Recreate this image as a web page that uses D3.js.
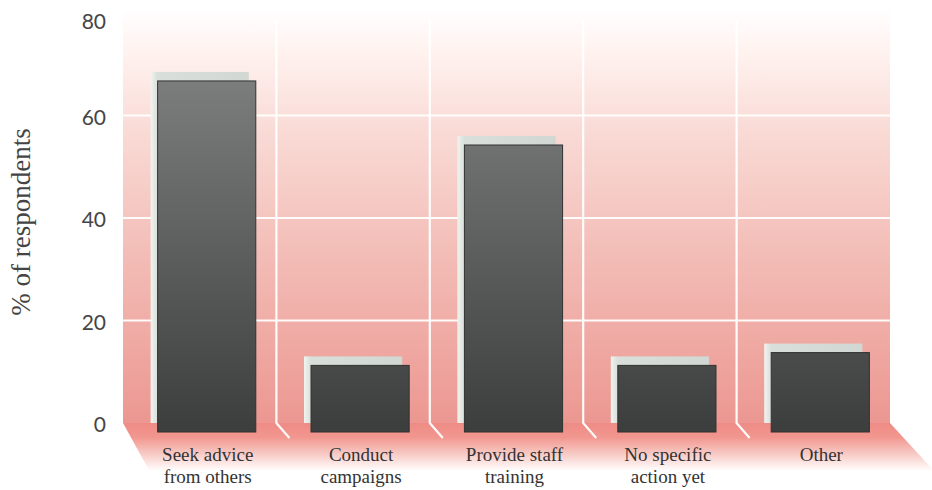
<!DOCTYPE html>
<html>
<head>
<meta charset="utf-8">
<script src="https://cdn.jsdelivr.net/npm/d3@7"></script>
<style>
  html, body { margin: 0; padding: 0; background: #ffffff; }
  svg { display: block; }
</style>
</head>
<body>
<svg id="chart" width="932" height="490"></svg>
<script>
// Categories and percentages of respondents
const categories = [
  ["Seek advice", "from others"],
  ["Conduct", "campaigns"],
  ["Provide staff", "training"],
  ["No specific", "action yet"],
  ["Other"]
];
const values = [68.5, 13, 56, 13, 15.5];
const yTicks = [0, 20, 40, 60, 80];
const yTitle = "% of respondents";

const svg = d3.select("#chart");

// Back wall extent and scales
const wallLeft = 123, wallRight = 890;
const y = d3.scaleLinear().domain([0, 80]).range([423, 13]);
const keys = categories.map(d => d.join(" "));
const x = d3.scaleBand().domain(keys).range([wallLeft, wallRight])
  .paddingInner(0.36).paddingOuter(0.18);
const step = x.step();

// Offset of the bar front face from its back face, and floor depth
const faceDx = 7, faceDy = 9;
const floorDx = 44, floorDy = 48;

const defs = svg.append("defs");

const wallGrad = defs.append("linearGradient").attr("id", "wallGrad")
  .attr("gradientUnits", "userSpaceOnUse")
  .attr("x1", 0).attr("x2", 0).attr("y1", 8).attr("y2", y(0));
wallGrad.selectAll("stop").data([
  [0, "#ffffff"], [0.1, "#fff3f0"], [0.3, "#f9dad5"], [0.6, "#f3bcb6"], [1, "#ec9791"]
]).join("stop").attr("offset", d => d[0]).attr("stop-color", d => d[1]);

const floorGrad = defs.append("linearGradient").attr("id", "floorGrad")
  .attr("gradientUnits", "userSpaceOnUse")
  .attr("x1", 0).attr("x2", 0).attr("y1", y(0)).attr("y2", y(0) + floorDy);
floorGrad.selectAll("stop").data([
  [0, "#ee8b85"], [0.3, "#f1978f"], [0.65, "#f8cbc6"], [1, "#ffffff"]
]).join("stop").attr("offset", d => d[0]).attr("stop-color", d => d[1]);

const barGrad = defs.append("linearGradient").attr("id", "barGrad")
  .attr("gradientUnits", "userSpaceOnUse")
  .attr("x1", 0).attr("x2", 0).attr("y1", 60).attr("y2", y(0) + faceDy);
barGrad.selectAll("stop").data([
  [0, "#7e8180"], [1, "#3b3e3d"]
]).join("stop").attr("offset", d => d[0]).attr("stop-color", d => d[1]);

const backGrad = defs.append("linearGradient").attr("id", "backGrad")
  .attr("x1", 0).attr("x2", 1).attr("y1", 0).attr("y2", 0);
backGrad.selectAll("stop").data([
  [0, "#f1f3ef"], [0.07, "#d9dfda"], [1, "#d1d7d2"]
]).join("stop").attr("offset", d => d[0]).attr("stop-color", d => d[1]);

// Floor
svg.append("path")
  .attr("d", `M${wallLeft},${y(0)} L${wallRight},${y(0)} L${wallRight + floorDx},${y(0) + floorDy} L${wallLeft + floorDx * 0.6},${y(0) + floorDy} Z`)
  .attr("fill", "url(#floorGrad)");

// Back wall
svg.append("rect")
  .attr("x", wallLeft).attr("y", 8)
  .attr("width", wallRight - wallLeft).attr("height", y(0) - 8)
  .attr("fill", "url(#wallGrad)");

// Horizontal grid lines
svg.append("g").selectAll("line")
  .data(yTicks.filter(t => t > 0 && t < 80))
  .join("line")
  .attr("x1", wallLeft).attr("x2", wallRight)
  .attr("y1", d => y(d)).attr("y2", d => y(d))
  .attr("stroke", "#ffffff").attr("stroke-opacity", 0.95).attr("stroke-width", 2.2);

// Vertical grid lines between categories, continuing onto the floor
const dividers = d3.range(1, keys.length).map(i => wallLeft + i * step);
svg.append("g").selectAll("path")
  .data(dividers)
  .join("path")
  .attr("d", d => `M${d},${y(80) + 6} L${d},${y(0)} L${d + 13},${y(0) + 15}`)
  .attr("fill", "none")
  .attr("stroke", "#ffffff").attr("stroke-opacity", 0.95).attr("stroke-width", 2.2);

// Bars: pale back face on the wall, dark front face
const bars = svg.append("g").selectAll("g")
  .data(keys.map((k, i) => ({ key: k, value: values[i] })))
  .join("g");

bars.append("rect")
  .attr("x", d => x(d.key))
  .attr("y", d => y(d.value))
  .attr("width", x.bandwidth())
  .attr("height", d => y(0) - y(d.value))
  .attr("fill", "url(#backGrad)");

bars.append("rect")
  .attr("x", d => x(d.key) + faceDx)
  .attr("y", d => y(d.value) + faceDy)
  .attr("width", x.bandwidth())
  .attr("height", d => y(0) - y(d.value))
  .attr("fill", "url(#barGrad)")
  .attr("stroke", "#303332").attr("stroke-width", 1);

// Y axis labels
const yAxis = d3.axisLeft(y).tickValues(yTicks).tickSize(0).tickPadding(0);
const gy = svg.append("g").attr("transform", "translate(106,2)").call(yAxis);
gy.select(".domain").remove();
gy.selectAll("text")
  .attr("font-family", "Lato, 'Open Sans', sans-serif")
  .attr("font-weight", 400)
  .attr("font-size", 21)
  .attr("fill", "#454545");
gy.selectAll(".tick").filter(d => d === 80).select("text").attr("dy", "0.62em");

// Y axis title
svg.append("text")
  .attr("transform", `translate(30,${222}) rotate(-90)`)
  .attr("text-anchor", "middle")
  .attr("font-family", "'Liberation Serif', 'DejaVu Serif', serif")
  .attr("font-size", 27)
  .attr("fill", "#444444")
  .text(yTitle);

// Category labels on the floor
const labels = svg.append("g").selectAll("text")
  .data(categories)
  .join("text")
  .attr("text-anchor", "middle")
  .attr("font-family", "'Liberation Serif', 'DejaVu Serif', serif")
  .attr("font-size", 19)
  .attr("fill", "#333333")
  .attr("transform", (d, i) => `translate(${x(keys[i]) + x.bandwidth() / 2 + 8},461)`);
labels.selectAll("tspan")
  .data(d => d)
  .join("tspan")
  .attr("x", 0)
  .attr("dy", (d, i) => i === 0 ? 0 : 22)
  .text(d => d);
</script>
</body>
</html>
